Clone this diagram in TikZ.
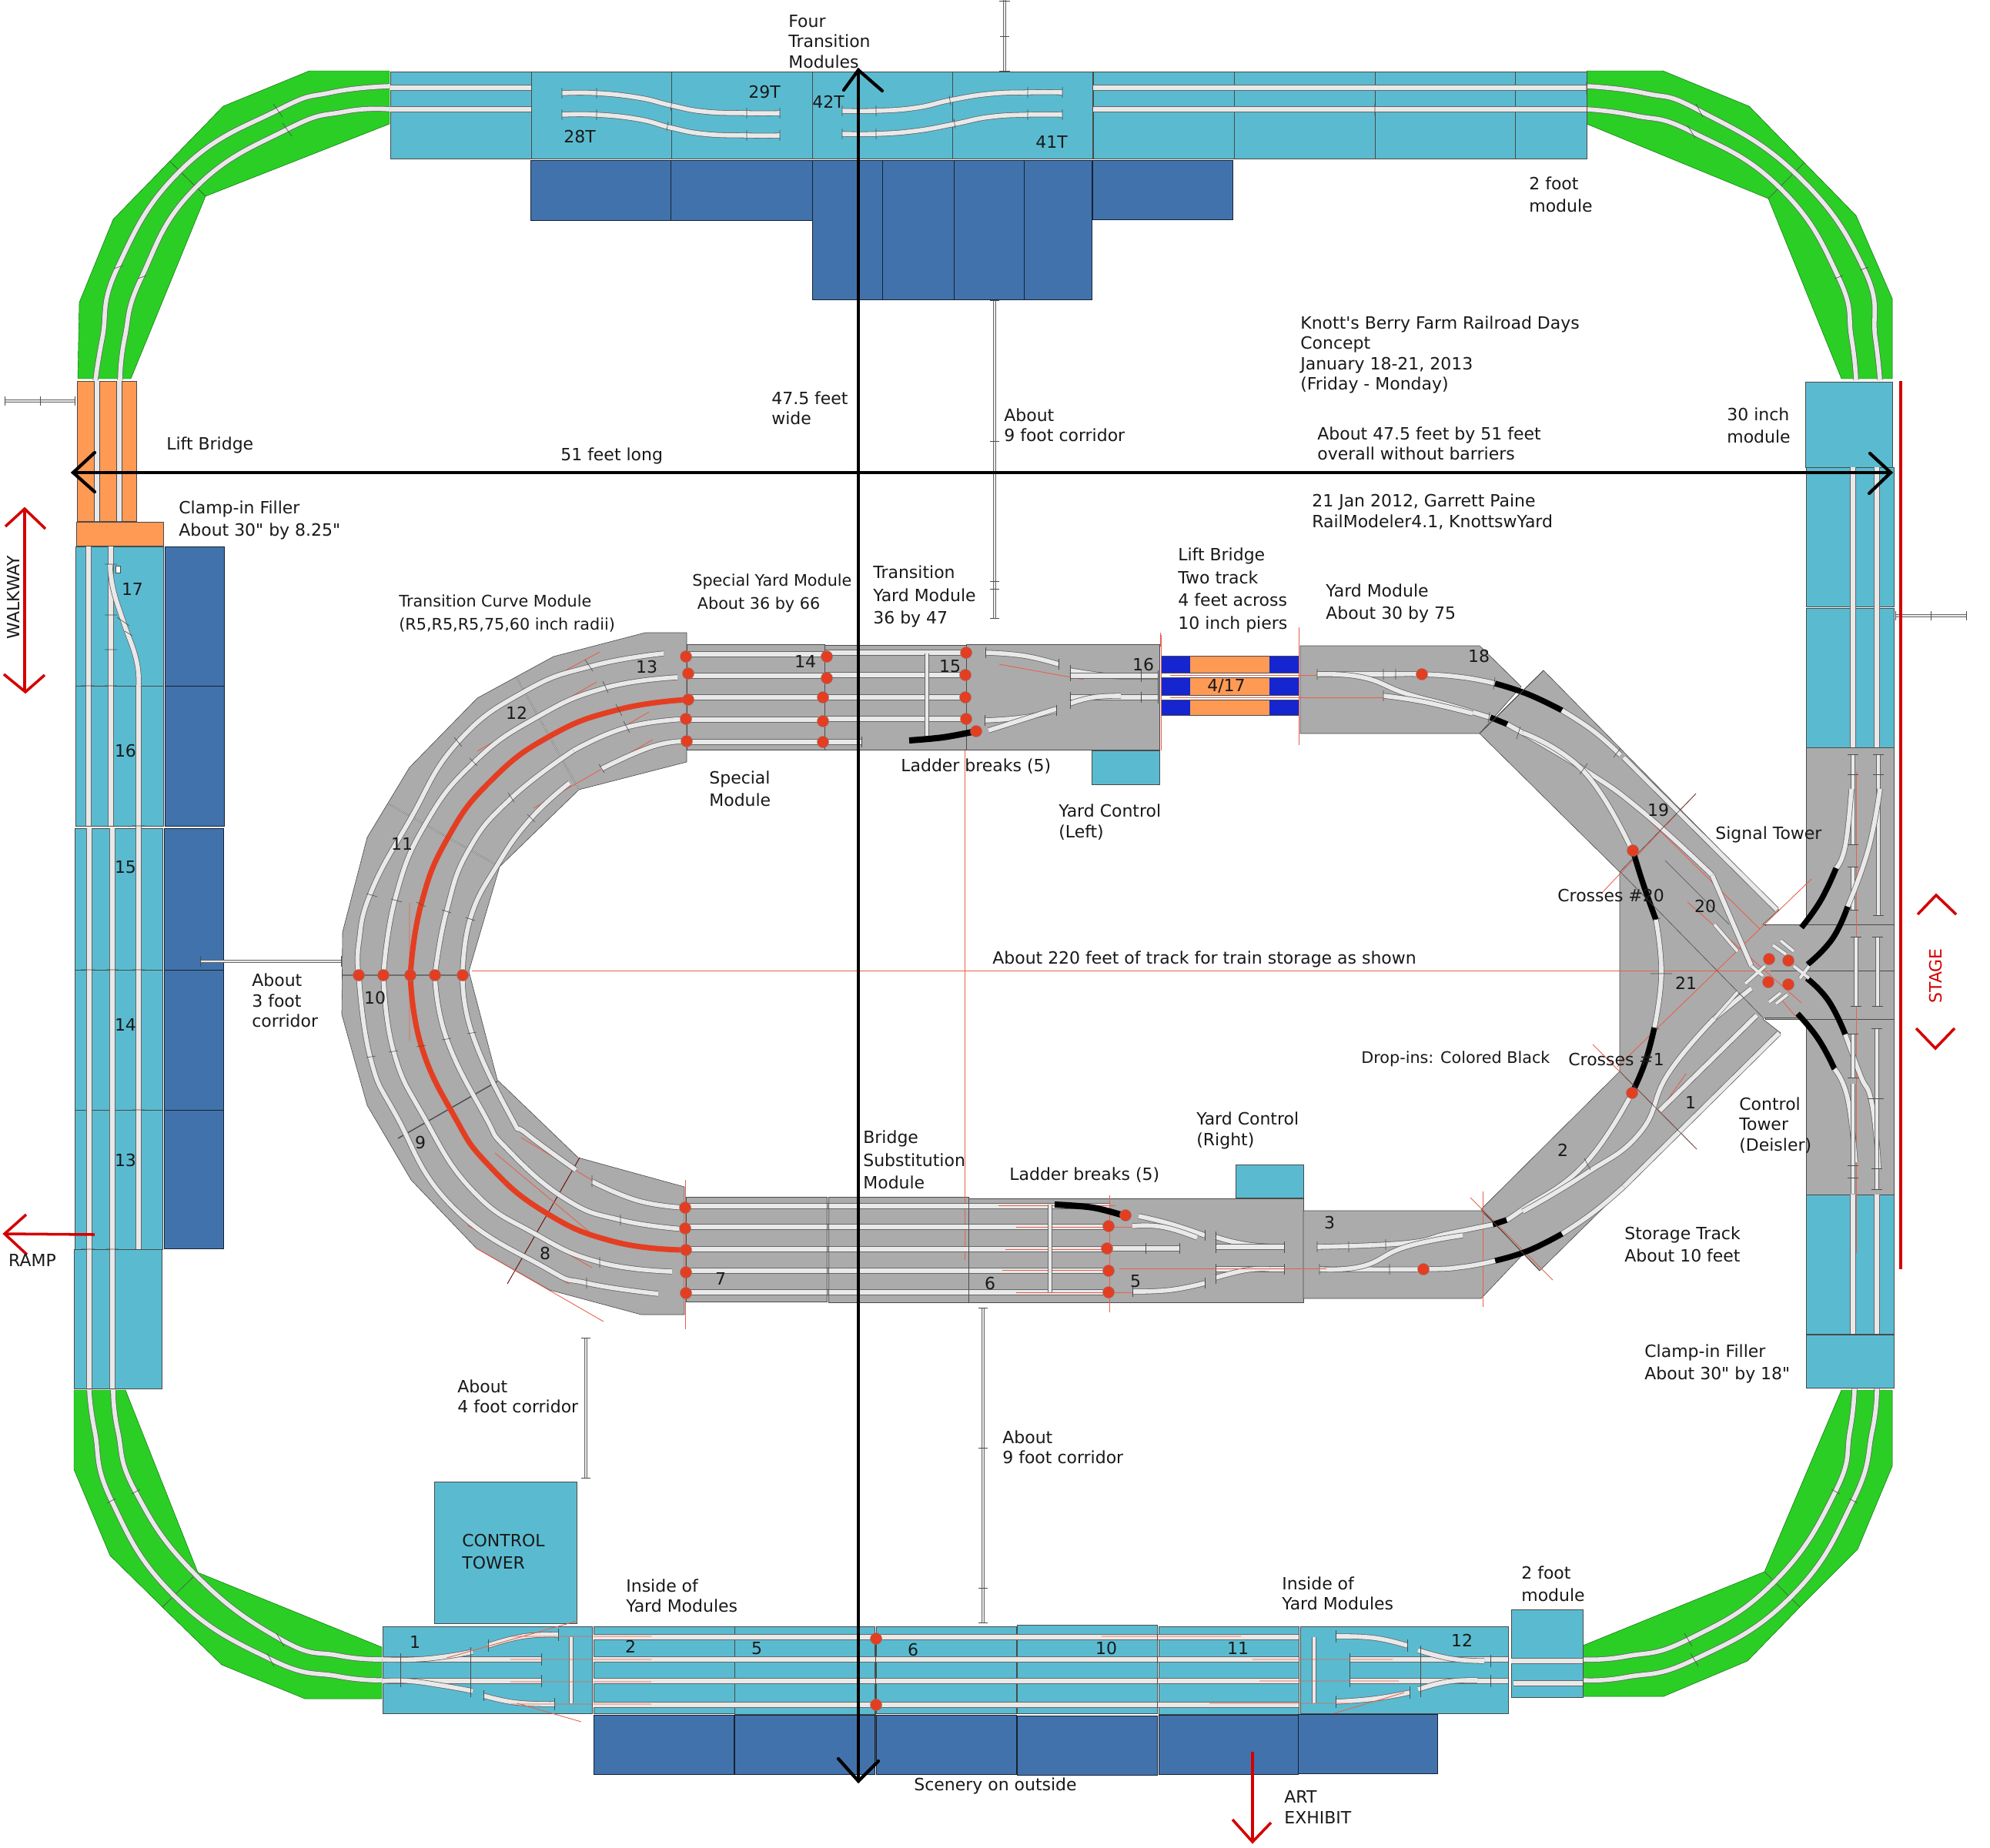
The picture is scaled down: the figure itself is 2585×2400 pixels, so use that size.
\documentclass[tikz,border=0pt]{standalone}
\usepackage{fontspec}
\setmainfont{DejaVu Sans}[Ligatures=TeXOff]
\definecolor{teal1}{HTML}{5ABBD0}
\definecolor{navy1}{HTML}{4272AB}
\definecolor{green1}{HTML}{2BCE25}
\definecolor{orange1}{HTML}{FF9A55}
\definecolor{gray1}{HTML}{ABABAB}
\definecolor{reddot}{HTML}{E43E22}
\definecolor{blue1}{HTML}{1525CF}
\definecolor{thinred}{HTML}{E8604C}
\definecolor{arrowred}{HTML}{D40000}
\definecolor{edge}{HTML}{4A4A4A}
\definecolor{rail}{HTML}{E9E9E9}
\tikzset{
 lbl/.style={font=\fontsize{12.5}{15}\selectfont,align=left,anchor=west,inner sep=0pt,text=black!90},
 lblw/.style={font=\fontsize{12.5}{16.8}\selectfont,align=left,anchor=west,inner sep=0pt,text=black!90},
 lbls/.style={font=\fontsize{11.8}{16.8}\selectfont,align=left,anchor=west,inner sep=0pt,text=black!90},
 num/.style={font=\fontsize{12.5}{15}\selectfont,inner sep=0pt,text=black!90},
 teal/.style={fill=teal1,draw=edge,line width=.35pt},
 navy/.style={fill=navy1,draw=black!70!navy1,line width=.35pt},
 grn/.style={fill=green1,draw=green!40!black,line width=.25pt},
 gry/.style={fill=gray1,draw=edge,line width=.35pt},
 orng/.style={fill=orange1,draw=edge,line width=.35pt},
 trk/.style={draw=black!60,double=rail,double distance=3.2pt,line width=.45pt},
 trkb/.style={draw=black!60,double=rail,double distance=2.2pt,line width=.35pt},
 blk/.style={draw=black,line width=4.2pt},
 redt/.style={draw=reddot,line width=4pt},
 thr/.style={draw=thinred,line width=.5pt},
 tck/.style={draw=black!70,line width=.35pt},
 dot/.style={circle,fill=reddot,draw=black!50,line width=.2pt,minimum size=8.6pt,inner sep=0pt},
 bigarrow/.style={draw=black,line width=2.4pt,line cap=round,line join=miter},
 redarrow/.style={draw=arrowred,line width=2pt,line join=miter},
 corr/.style={draw=black!60,double=rail,double distance=1.6pt,line width=.35pt}
}
\newcommand\T[3]{\node[lbl] (#1) at (#2) {#3};}
\newcommand\W[3]{\node[lblw] (#1) at (#2) {#3};}
\newcommand\Sm[3]{\node[lbls] (#1) at (#2) {#3};}
\newcommand\N[3]{\node[num] (#1) at (#2) {#3};}
\newcommand\Cv[1]{\draw[trk] plot[smooth,tension=.8] coordinates {#1};}
\newcommand\Cb[1]{\draw[blk] plot[smooth,tension=.8] coordinates {#1};}
\newcommand\Dt[2]{\node[dot] (#1) at (#2) {};}
\begin{document}
\begin{tikzpicture}[x=0.02cm,y=-0.02cm]
\useasboundingbox[fill=white] (0,0) rectangle (2585,2400);

% green corners
\draw[grn] (402,92)--(506,92)--(506,161)--(267,255)--(170,492)--(101,492)--(103,393)--(147,285)--(290,138)--cycle;
\draw[grn] (2160,92)--(2061,92)--(2061,161)--(2297,258)--(2392,492)--(2458,492)--(2458,388)--(2411,280)--(2272,138)--cycle;
\draw[grn] (96,1806)--(163,1806)--(257,2043)--(496,2140)--(496,2207)--(396,2207)--(288,2163)--(211,2088)--(143,2021)--(96,1909)--cycle;
\draw[grn] (2392,1806)--(2458,1806)--(2458,1905)--(2413,2013)--(2338,2088)--(2270,2158)--(2161,2204)--(2056,2204)--(2056,2138)--(2292,2042)--cycle;
\draw[tck] (221,210)--(267,255) (2297,258)--(2343,212) (211,2088)--(257,2043) (2292,2042)--(2338,2088);
\Cv{(506,112)(431,120)(361,143)(236,220)(153,347)(133,439)(124,494)}
\Cv{(506,142)(448,145)(373,168)(253,245)(184,360)(162,439)(156,494)}
\Cv{(2061,112)(2136,121)(2208,144)(2334,227)(2421,349)(2436,439)(2442,494)}
\Cv{(2061,142)(2123,150)(2197,171)(2313,245)(2388,360)(2405,439)(2411,494)}
\Cv{(116,1806)(123,1859)(145,1950)(226,2073)(352,2156)(440,2178)(496,2183)}
\Cv{(147,1806)(153,1859)(176,1938)(253,2045)(365,2130)(440,2151)(496,2156)}
\Cv{(2409,1804)(2403,1859)(2384,1938)(2305,2055)(2193,2130)(2112,2152)(2056,2156)}
\Cv{(2438,1804)(2432,1859)(2407,1950)(2326,2075)(2201,2156)(2112,2179)(2056,2183)}
\draw[tck] (355,135)--(367,152) (367,160)--(379,177) (148,349)--(160,345) (179,362)--(190,358)
 (2203,135)--(2212,152) (2192,163)--(2202,179) (2383,362)--(2394,358) (2416,351)--(2427,347)
 (139,1953)--(150,1947) (171,1941)--(182,1935) (347,2148)--(356,2165) (359,2122)--(369,2139)
 (2379,1935)--(2390,1941) (2402,1947)--(2413,1953) (2188,2122)--(2198,2139) (2196,2148)--(2206,2165);

% top row
\foreach \a/\b in {507/690,690/872,872/1055,1055/1237,1237/1419,1420/1603,1603/1786,1786/1968,1968/2061}
  \draw[teal] (\a,93) rectangle (\b,206);
\foreach \a/\b/\c in {689/871/286,871/1055/286,1055/1146/389,1146/1239/389,1239/1330/389,1330/1418/389,1419/1601/285}
  \draw[navy] (\a,208) rectangle (\b,\c);
\draw[trk] (507,114)--(690,114) (507,142)--(690,142);
\draw[trk] (1420,114)--(2061,114) (1420,142)--(2061,142);
\Cv{(730,121)(775,121)(830,127)(872,137)(915,145)(970,147)(1013,147)}
\Cv{(730,149)(775,149)(830,155)(872,166)(915,174)(970,176)(1013,176)}
\Cv{(1094,144)(1138,144)(1190,140)(1235,130)(1285,122)(1335,120)(1380,120)}
\Cv{(1094,174)(1138,174)(1190,170)(1240,161)(1285,152)(1335,149)(1380,149)}
\draw[tck] (775,114)--(775,128) (775,142)--(775,156) (970,140)--(970,154) (970,169)--(970,183) (1013,140)--(1013,154) (1013,169)--(1013,183) (730,114)--(730,128) (730,142)--(730,156)
 (1094,137)--(1094,151) (1138,137)--(1138,151) (1094,167)--(1094,181) (1138,167)--(1138,181) (1335,113)--(1335,127) (1380,113)--(1380,127) (1335,142)--(1335,156) (1380,142)--(1380,156)
 (2061,106)--(2061,122) (1786,134)--(1786,150) (873,130)--(871,144) (868,158)--(866,170) (1233,124)--(1235,137) (1239,154)--(1241,167);

% corridors
\draw[corr] (1305,0)--(1305,92);
\draw[tck] (1299,47)--(1311,47) (1298,92)--(1312,92) (1298,1)--(1312,1);
\draw[corr] (1292,390)--(1292,803);
\draw[tck] (1286,390)--(1298,390) (1286,573)--(1298,573) (1286,755)--(1298,755) (1286,765)--(1298,765) (1286,803)--(1298,803);
\draw[corr] (6,521)--(97,521);
\draw[tck] (6,515)--(6,527) (52,515)--(52,527) (97,515)--(97,527);
\draw[corr] (2462,800)--(2554,800);
\draw[tck] (2462,794)--(2462,806) (2508,794)--(2508,806) (2554,794)--(2554,806);
\draw[corr] (761,1738)--(761,1920);
\draw[tck] (755,1738)--(767,1738) (755,1920)--(767,1920);
\draw[corr] (1277,1699)--(1277,2108);
\draw[tck] (1271,1699)--(1283,1699) (1271,1881)--(1283,1881) (1271,2063)--(1283,2063) (1271,2108)--(1283,2108);

% lift bridge left
\draw[orng] (100,495) rectangle (177,677);
\fill[rail] (122,495) rectangle (129,677) (151,495) rectangle (158,677);
\draw[tck] (122,495)--(122,677) (129,495)--(129,677) (151,495)--(151,677) (158,495)--(158,677);
\draw[orng] (99,678) rectangle (212,709);

% left column
\foreach \a/\b in {710/891,891/1073} \draw[teal] (98,\a) rectangle (212,\b);
\foreach \a/\b in {1076/1260,1260/1442,1442/1623} \draw[teal] (97,\a) rectangle (211,\b);
\draw[teal] (96,1623) rectangle (210,1804);
\foreach \a/\b in {710/891,891/1073} \draw[navy] (214,\a) rectangle (291,\b);
\foreach \a/\b in {1076/1260,1260/1442,1442/1622} \draw[navy] (213,\a) rectangle (290,\b);
\draw[trk] (115,710)--(115,1073) (116,1076)--(116,1804);
\draw[trk] (144,710)--(144,1073) (146,1076)--(146,1804);
\draw[trk] (180,1623)--(180,891);
\Cv{(180,891)(177,857)(160,807)(147,765)(143,734)}
\draw[tck] (136,733)--(152,733) (136,799)--(152,799) (136,844)--(152,844) (152,802)--(168,813) (162,820)--(172,826)
 (105,891)--(122,891) (136,891)--(152,891) (172,1073)--(188,1073) (105,1260)--(123,1260) (138,1260)--(154,1260) (172,1260)--(188,1260) (172,1442)--(188,1442) (105,1623)--(123,1623) (138,1623)--(154,1623);
\draw[fill=white,draw=black!70,line width=.3pt] (150,735) rectangle (156,744);

% inner loop gray
\draw[gry] (838,822)--(892,822)--(892,990)--(752,1026)--(649,1126)--(609,1262)--(646,1403)--(751,1504)--(889,1542)--(889,1708)--(833,1708)--(714,1676)--(619,1622)--(534,1533)--(477,1436)--(444,1318)--(445,1211)--(477,1088)--(532,997)--(620,907)--(719,853)--cycle;
\draw[gry] (892,837) rectangle (1071,974);
\draw[gry] (1071,838) rectangle (1255,974);
\draw[gry] (1255,837) rectangle (1506,974);
\draw[teal] (1418,975) rectangle (1506,1019);
\fill[blue1] (1508,852) rectangle (1687,929);
\fill[orange1] (1546,852) rectangle (1649,929);
\draw[edge,line width=.35pt] (1508,852) rectangle (1687,929);
\fill[white] (1508,874) rectangle (1687,880) (1508,903) rectangle (1687,909);
\draw[tck] (1508,874)--(1687,874) (1508,880)--(1687,880) (1508,903)--(1687,903) (1508,909)--(1687,909);
\draw[gry] (1689,839)--(1922,839)--(1976,892)--(1922,953)--(1689,953)--cycle;
% lower yard
\draw[gry] (891,1555) rectangle (1074,1691);
\draw[gry] (1076,1555) rectangle (1258,1692);
\draw[gry] (1258,1557) rectangle (1441,1692);
\draw[gry] (1441,1557) rectangle (1693,1692);
\draw[teal] (1605,1513) rectangle (1693,1556);
\draw[gry] (1693,1573)--(1924,1573)--(1980,1628)--(1924,1687)--(1693,1687)--cycle;
% right gray mass
\draw[gry] (1922,953)--(2005,871)--(2311,1182)--(2290,1201)--(2293,1201)--(2293,1322)--(2290,1324)--(2313,1342)--(2000,1651)--(1924,1571)--(2104,1392)--(2104,1133)--cycle;
% right column
\draw[teal] (2345,496) rectangle (2458,607);
\draw[teal] (2346,607) rectangle (2460,788);
\draw[teal] (2346,790) rectangle (2460,971);
\draw[gry] (2346,971) rectangle (2460,1201);
\draw[gry] (2293,1201) rectangle (2460,1261);
\draw[gry] (2293,1261) rectangle (2460,1324);
\draw[gry] (2346,1324) rectangle (2460,1552);
\fill[gray1] (2280,1203) rectangle (2345,1322);
\draw[tck] (2293,1201)--(2345,1201) (2293,1322)--(2345,1322) (2290,1261)--(2345,1261);
\draw[teal] (2346,1552) rectangle (2460,1733);
\draw[teal] (2346,1734) rectangle (2460,1803);
\draw[trk] (2407,607)--(2407,971) (2438,607)--(2438,971);
\draw[trk] (2407,1552)--(2407,1733) (2438,1552)--(2438,1733);

% joints
\draw[tck,line width=.8pt] (671,880)--(752,1026) (504,1044)--(649,1126) (445,1267)--(609,1267) (646,1405)--(517,1479);
\draw[white,line width=.3pt] (671,880)--(752,1026) (504,1044)--(649,1126);
\draw[draw=black!60!red,line width=.5pt] (753,1504)--(659,1668);
\draw[tck] (892,837)--(892,975) (890,1555)--(890,1690);

% thin red construction lines
\draw[thr] (613,1261)--(2300,1261);
\draw[thr] (1253,975)--(1253,1637);
\draw[thr] (890,1533)--(890,1727) (1441,1553)--(1441,1705) (1508,825)--(1508,975) (1687,815)--(1687,968) (1926,1548)--(1926,1698) (1507,822)--(1507,840);
\draw[thr] (2203,1031)--(2080,1161) (2353,1142)--(2101,1386) (2069,1357)--(2204,1493) (1910,1556)--(2017,1663);
\draw[thr] (779,847)--(729,874) (775,886)--(620,976) (843,925)--(812,943) (848,961)--(693,1050) (532,1173)--(532,1353);
\draw[thr] (677,1478)--(775,1537) (643,1498)--(765,1600) (643,1575)--(769,1647) (607,1592)--(739,1668) (619,1622)--(784,1717);
\draw[thr] (2105,1029)--(2286,1207) (2192,1172)--(2340,1303);
\draw[thr] (2156,1443)--(2190,1395);
\draw[thr] (1520,877)--(1800,877) (1520,906)--(1800,906);
\draw[thr] (2411,1003)--(2411,1628);
\draw[thr] (1298,863)--(1408,883);

% yard tracks upper
\foreach \a in {850,878,906,935,964} \draw[trk] (892,\a)--(1071,\a);
\foreach \a in {848,877,906,934} \draw[trk] (1071,\a)--(1253,\a);
\draw[trk] (1071,964)--(1119,964);
\draw[tck] (1119,957)--(1119,971);
\Cv{(466,1267)(466,1226)(482,1159)(532,1066)(594,965)(682,898)(770,865)(862,849)}
\Cv{(498,1267)(514,1165)(553,1070)(616,990)(697,932)(785,894)(880,880)}
\Cv{(565,1267)(580,1184)(609,1104)(664,1037)(745,975)}
\Cv{(745,975)(814,945)(892,934)}
\Cv{(601,1267)(611,1193)(646,1124)(690,1063)(740,1017)}
\Cv{(781,999)(847,970)(892,963)}
\draw[redt] plot[smooth,tension=.8] coordinates {(533,1267)(547,1175)(582,1088)(638,1014)(715,956)(803,922)(892,909)};
% lower half
\Cv{(466,1267)(481,1374)(515,1450)(587,1567)(708,1647)(762,1667)(855,1681)}
\Cv{(498,1267)(511,1365)(550,1450)(614,1547)(695,1603)(779,1640)(873,1652)}
\Cv{(565,1267)(580,1349)(630,1450)(659,1493)(735,1558)(806,1585)(889,1597)}
\Cv{(601,1267)(613,1342)(663,1450)(684,1473)(748,1520)}
\Cv{(769,1535)(829,1560)(889,1569)}
\draw[redt] plot[smooth,tension=.8] coordinates {(533,1267)(547,1358)(590,1450)(634,1513)(708,1575)(797,1613)(889,1624)};
\draw[tck] (476,1161)--(490,1165) (508,1168)--(522,1172) (541,1172)--(553,1178) (574,1182)--(586,1186) (605,1192)--(617,1196)
 (476,1374)--(488,1372) (505,1367)--(517,1365) (541,1360)--(553,1358) (574,1351)--(586,1349) (607,1343)--(619,1341)
 (760,857)--(770,872) (783,885)--(790,900) (800,915)--(808,930) (810,937)--(818,952) (778,993)--(785,1004)
 (590,958)--(600,970) (610,985)--(620,995) (660,1030)--(668,1042) (685,1058)--(695,1068)
 (762,1660)--(762,1674) (779,1633)--(779,1647) (806,1578)--(806,1592) (769,1527)--(769,1542);
\foreach \a in {1567,1594,1623,1651,1679} \draw[trk] (892,\a)--(1441,\a);
\draw[tck] (1074,1555)--(1074,1691) (1258,1557)--(1258,1692);
\draw[tck] (1076,1555)--(1076,1692) (1071,838)--(1071,974) (1255,838)--(1255,974);
\draw[thr] (1297,1566)--(1449,1566) (1320,1594)--(1471,1594) (1306,1623)--(1458,1623) (1302,1650)--(1436,1650) (1320,1679)--(1471,1679);

% ladders
\draw[trkb] (1204,849)--(1204,959);
\draw[trkb] (1364,1565)--(1364,1679);
\draw[blk,line width=4.6pt] plot[smooth,tension=.6] coordinates {(1181,962)(1225,958)(1268,950)};
\draw[blk,line width=4.6pt] plot[smooth,tension=.6] coordinates {(1370,1565)(1420,1569)(1462,1580)};

% turnouts upper yard
\Cv{(1280,848)(1330,852)(1375,863)}
\Cv{(1390,871)(1440,878)(1482,879)(1504,879)}
\draw[trk] (1390,878)--(1504,878) (1390,906)--(1504,906);
\Cv{(1390,914)(1420,906)(1456,904)}
\Cv{(1279,936)(1330,932)(1372,923)}
\draw[trk] (1284,949)--(1372,921);
\draw[tck] (1280,841)--(1280,855) (1375,856)--(1375,870) (1390,864)--(1390,885) (1482,871)--(1482,886) (1504,871)--(1504,914) (1390,899)--(1390,921) (1482,899)--(1482,913) (1279,929)--(1279,943) (1372,916)--(1372,930);
% turnouts lower yard
\Cv{(1479,1580)(1520,1590)(1565,1605)}
\Cv{(1579,1607)(1620,1617)(1668,1620)}
\draw[trk] (1579,1620)--(1668,1620) (1579,1649)--(1668,1649);
\Cv{(1471,1593)(1510,1594)(1555,1608)}
\draw[trk] (1441,1622)--(1532,1622);
\Cv{(1579,1660)(1620,1650)(1650,1649)}
\Cv{(1471,1678)(1520,1676)(1565,1667)}
\draw[tck] (1565,1598)--(1565,1612) (1579,1600)--(1579,1628) (1668,1613)--(1668,1628) (1668,1642)--(1668,1656) (1579,1642)--(1579,1668) (1532,1615)--(1532,1629) (1488,1615)--(1488,1629) (1471,1671)--(1471,1685) (1565,1660)--(1565,1674);
% module 18 & around
\Cv{(1711,876)(1797,876)(1847,876)(1900,880)(1942,888)}
\Cb{(1942,888)(1985,902)(2029,923)}
\Cv{(2029,923)(2070,950)(2105,981)}
\draw[trk] (2109,984)--(2308,1182);
\Cv{(1711,876)(1770,880)(1826,901)(1885,917)(1935,932)}
\draw[blk] (1936,932)--(1958,941);
\Cv{(1958,941)(2058,1000)(2134,1055)(2224,1137)}
\draw[trk] (2224,1137)--(2275,1255);
\Cv{(1797,904)(1850,912)(1913,927)}
\Cv{(1978,952)(2058,1003)(2120,1105)}
\Cb{(2121,1105)(2135,1150)(2151,1195)}
\Cv{(2151,1195)(2158,1265)(2149,1335)}
\Cb{(2149,1335)(2137,1380)(2120,1420)}
\Cv{(2120,1420)(2058,1513)(1978,1571)(1957,1585)}
\draw[blk] (1939,1591)--(1957,1585);
\Cv{(1939,1591)(1880,1603)(1826,1615)(1711,1620)}
\draw[trk] (2275,1284)--(2228,1322);
\Cv{(2228,1322)(2167,1395)(2130,1472)(2058,1526)(1978,1574)}
\draw[trk] (2311,1342)--(2109,1542);
\Cv{(2109,1542)(2070,1575)(2029,1603)}
\Cb{(2029,1603)(1985,1625)(1942,1638)}
\Cv{(1942,1638)(1900,1646)(1848,1649)(1714,1649)}
\draw[trk] (2282,1319)--(2156,1443);
\Cv{(1714,1649)(1770,1645)(1826,1620)(1900,1605)}
\draw[tck] (1711,869)--(1711,883) (1797,869)--(1797,883) (1813,869)--(1813,883) (1797,897)--(1797,911) (1942,880)--(1940,896) (2105,972)--(2096,984) (2062,992)--(2052,1006) (1935,925)--(1933,939) (1975,944)--(1970,960)
 (1714,1642)--(1714,1656) (1805,1642)--(1805,1656) (1711,1613)--(1711,1627) (1752,1613)--(1752,1627) (1800,1610)--(1800,1624)
 (2144,1265)--(2172,1265) (2147,1195)--(2157,1193) (2145,1335)--(2155,1337) (2058,1505)--(2066,1520);
\draw[thr] (1454,1648)--(1723,1648);

% right gray module tracks
\draw[trkb] (2407,980)--(2407,1006) (2407,1006)--(2407,1097) (2407,1126)--(2407,1182);
\draw[trkb] (2440,980)--(2440,1006) (2440,1006)--(2440,1189);
\Cv{(2405,1025)(2397,1099)(2385,1128)}
\Cb{(2385,1128)(2365,1170)(2340,1205)}
\Cv{(2442,1025)(2427,1103)(2400,1178)}
\Cb{(2400,1178)(2380,1220)(2348,1253)}
\draw[trkb] (2411,1217)--(2411,1307) (2439,1217)--(2439,1307);
\Cb{(2347,1271)(2375,1300)(2397,1344)}
\Cv{(2397,1344)(2417,1398)(2430,1427)(2438,1485)(2440,1518)}
\Cb{(2335,1317)(2362,1350)(2383,1389)}
\Cv{(2383,1389)(2400,1427)(2410,1510)}
\draw[trkb] (2407,1343)--(2407,1400) (2407,1408)--(2407,1514) (2407,1514)--(2407,1551) (2438,1336)--(2438,1518) (2438,1518)--(2438,1545);
\draw[tck] (2400,980)--(2414,980) (2400,1006)--(2414,1006) (2400,1097)--(2414,1097) (2400,1126)--(2414,1126) (2400,1182)--(2414,1182) (2433,980)--(2447,980) (2433,1006)--(2447,1006) (2433,1189)--(2447,1189) (2404,1217)--(2418,1217) (2404,1307)--(2418,1307) (2432,1217)--(2446,1217) (2432,1307)--(2446,1307) (2400,1343)--(2414,1343) (2400,1400)--(2414,1400) (2400,1514)--(2414,1514) (2400,1530)--(2414,1530) (2431,1336)--(2445,1336) (2431,1518)--(2445,1518) (2431,1545)--(2445,1545) (2426,1427)--(2447,1427);
% central crossing
\draw[trkb] (2303,1228)--(2320,1240) (2313,1222)--(2330,1236) (2330,1255)--(2350,1271) (2338,1271)--(2350,1255) (2275,1255)--(2290,1268) (2267,1278)--(2293,1255) (2298,1302)--(2313,1290) (2307,1304)--(2322,1292) (2257,1236)--(2227,1201) (2258,1288)--(2227,1323);
\draw[thr] (2315,1300)--(2332,1320);
\draw[tck] (2105,1133)--(2290,1322) (2203,1031)--(2104,1133) (2104,1392)--(2204,1493) (2163,1118)--(2246,1201);
\draw[tck,line width=.5pt] (2005,871)--(1922,953) (1924,1571)--(2000,1651);
\Dt{d1}{2298,1246}\Dt{d2}{2323,1248}\Dt{d3}{2297,1276}\Dt{d4}{2323,1279}

% dots
\Dt{a1}{891,853}\Dt{a2}{894,875}\Dt{a3}{894,909}\Dt{a4}{891,934}\Dt{a5}{892,963}
\Dt{b1}{1074,853}\Dt{b2}{1074,881}\Dt{b3}{1069,906}\Dt{b4}{1069,937}\Dt{b5}{1069,964}
\Dt{c1}{1255,848}\Dt{c2}{1254,877}\Dt{c3}{1254,906}\Dt{c4}{1255,934}\Dt{c5}{1268,950}
\Dt{e1}{466,1267}\Dt{e2}{498,1267}\Dt{e3}{533,1267}\Dt{e4}{565,1267}\Dt{e5}{601,1267}
\Dt{f1}{890,1569}\Dt{f2}{890,1596}\Dt{f3}{891,1624}\Dt{f4}{891,1653}\Dt{f5}{891,1680}
\Dt{g1}{1462,1579}\Dt{g2}{1440,1593}\Dt{g3}{1438,1622}\Dt{g4}{1440,1651}\Dt{g5}{1440,1679}
\Dt{h1}{1847,876}\Dt{h2}{2121,1105}\Dt{h3}{2120,1420}\Dt{h4}{1849,1649}

% bottom row
\draw[teal] (497,2113) rectangle (769,2226);
\draw[teal] (771,2113) rectangle (954,2226);
\draw[teal] (954,2113) rectangle (1136,2227);
\draw[teal] (1138,2113) rectangle (1320,2226);
\draw[teal] (1321,2111) rectangle (1503,2226);
\draw[teal] (1505,2113) rectangle (1687,2227);
\draw[teal] (1689,2113) rectangle (1959,2226);
\draw[teal] (1963,2091) rectangle (2056,2205);
\draw[teal] (564,1925) rectangle (749,2109);
\foreach \a/\b/\c/\d in {771/953/2228/2305,954/1136/2228/2305,1138/1320/2228/2305,1321/1503/2229/2306,1505/1686/2228/2305,1686/1867/2227/2304}
  \draw[navy] (\a,\c) rectangle (\b,\d);
\foreach \a in {2127,2156,2184,2215} \draw[trk] (771,\a)--(1687,\a);
\draw[trkb] (742,2127)--(742,2213);
\draw[trkb] (1707,2127)--(1707,2213);
\draw[trk] (497,2156)--(703,2156) (497,2184)--(703,2184);
\Cv{(497,2156)(539,2156)(580,2152)(614,2146)}
\Cv{(634,2138)(680,2126)(725,2124)}
\Cv{(497,2184)(531,2184)(575,2190)(614,2197)}
\Cv{(628,2203)(670,2212)(720,2214)}
\draw[trk] (1753,2156)--(1959,2156) (1753,2184)--(1959,2184);
\Cv{(1735,2126)(1785,2128)(1828,2138)}
\Cv{(1842,2144)(1885,2155)(1928,2158)}
\Cv{(1735,2211)(1785,2207)(1831,2199)}
\Cv{(1842,2195)(1880,2185)(1919,2183)}
\draw[trk] (1963,2158)--(2056,2158) (1966,2187)--(2056,2187);
\draw[tck] (520,2148)--(520,2192) (611,2140)--(611,2205) (634,2130)--(634,2146) (725,2116)--(725,2132) (628,2196)--(628,2210) (720,2206)--(720,2222) (703,2148)--(703,2164) (703,2176)--(703,2192)
 (1753,2148)--(1753,2192) (1845,2138)--(1845,2205) (1735,2118)--(1735,2134) (1828,2130)--(1828,2146) (1735,2203)--(1735,2219) (1831,2191)--(1831,2207) (1936,2150)--(1936,2166) (1936,2176)--(1936,2192)
 (1503,2113)--(1503,2226);
\draw[thr] (663,2126)--(846,2126) (663,2156)--(846,2156) (663,2185)--(846,2185) (663,2214)--(846,2214) (580,2154)--(750,2106) (672,2213)--(755,2237);
\draw[thr] (1431,2126)--(1612,2126) (1627,2156)--(1809,2156) (1636,2184)--(1817,2184) (1571,2213)--(1753,2213) (1733,2226)--(1824,2199);
\draw[tck] (1137,2129)--(1137,2288);
\Dt{k1}{1138,2129}\Dt{k2}{1138,2215}

% red markers
\draw[arrowred,line width=2.4pt] (2469,495)--(2469,1649);
\draw[redarrow] (7,684)--(32,661)--(59,687);
\draw[redarrow] (5,876)--(33,899)--(58,877);
\draw[redarrow] (32,661)--(32,899);
\draw[redarrow] (123,1604)--(6,1603);
\draw[redarrow] (34,1578)--(6,1603)--(35,1630);
\draw[redarrow] (1627,2276)--(1627,2393);
\draw[redarrow] (1601,2364)--(1627,2393)--(1651,2368);
\draw[redarrow] (2491,1188)--(2515,1163)--(2541,1188);
\draw[redarrow] (2489,1336)--(2514,1362)--(2539,1336);

% big arrows
\coordinate (va) at (1115,91);\coordinate (vb) at (1115,2314);
\coordinate (ha) at (95,614);\coordinate (hb) at (2456,614);
\draw[bigarrow] (va)--(vb) (ha)--(hb);
\draw[bigarrow] (1096,117)--(va)--(1146,118);
\draw[bigarrow] (1089,2285)--(vb)--(1141,2288);
\draw[bigarrow] (123,588)--(ha)--(123,639);
\draw[bigarrow] (2429,589)--(hb)--(2428,641);

% labels
\T{t1}{1024,54}{Four\\Transition\\Modules}
\N{n29}{993,120}{29T}\N{n28}{753,178}{28T}\N{n42}{1076,132}{42T}\N{n41}{1366,184}{41T}
\W{t2}{1986,253}{2 foot\\module}
\T{t3}{1689,461}{Knott's Berry Farm Railroad Days\\Concept\\January 18-21, 2013\\(Friday - Monday)}
\T{t4}{1002,530}{47.5 feet\\wide}
\T{t5}{1304,552}{About\\9 foot corridor}
\W{t6}{2243,553}{30 inch\\module}
\T{t7}{1711,576}{About 47.5 feet by 51 feet\\overall without barriers}
\T{t8}{216,578}{Lift Bridge}
\T{t9}{728,592}{51 feet long}
\T{t10}{1704,665}{21 Jan 2012, Garrett Paine\\RailModeler4.1, KnottswYard}
\W{t11}{232,676}{Clamp-in Filler\\About 30" by 8.25"}
\W{t12}{1530,767}{Lift Bridge\\Two track\\4 feet across\\10 inch piers}
\W{t13}{1722,784}{Yard Module\\About 30 by 75}
\W{t14}{1134,775}{Transition\\Yard Module\\36 by 47}
\Sm{t15}{899,771}{Special Yard Module\\\ About 36 by 66}
\Sm{t16}{518,797}{Transition Curve Module\\(R5,R5,R5,75,60 inch radii)}
\N{n13a}{840,866}{13}\N{n14a}{1046,859}{14}\N{n15a}{1234,866}{15}\N{n16a}{1485,863}{16}
\N{n12a}{671,926}{12}\N{n11a}{522,1096}{11}\N{n10a}{487,1296}{10}
\N{n417}{1593,892}{4/17}
\W{t17}{921,1025}{Special\\Module}
\T{t18}{1170,996}{Ladder breaks (5)}
\T{t19}{1375,1068}{Yard Control\\(Left)}
\T{t20}{1289,1246}{About 220 feet of track for train storage as shown}
\N{n18}{1921,852}{18}\N{n19}{2154,1052}{19}\N{n20}{2215,1177}{20}\N{n21}{2190,1277}{21}
\N{n1b}{2196,1432}{1}\N{n2b}{2030,1494}{2}\N{n3b}{1727,1588}{3}\N{n5b}{1475,1665}{5}
\T{t21}{2228,1084}{Signal Tower}
\T{t22}{2023,1163}{Crosses \#20}
\Sm{t23}{1768,1376}{Drop-ins: Colored Black}
\T{t24}{2037,1376}{Crosses \#1}
\T{t25}{2259,1462}{Control\\Tower\\(Deisler)}
\W{t26}{2110,1617}{Storage Track\\About 10 feet}
\W{t27}{2136,1772}{Clamp-in Filler\\About 30" by 18"}
\T{t28}{1554,1469}{Yard Control\\(Right)}
\T{t29}{1311,1527}{Ladder breaks (5)}
\W{t30}{1121,1507}{Bridge\\Substitution\\Module}
\N{n7}{936,1661}{7}\N{n6}{1286,1667}{6}\N{n8}{708,1628}{8}\N{n9}{546,1484}{9}
\T{t31}{594,1814}{About\\4 foot corridor}
\T{t32}{1302,1880}{About\\9 foot corridor}
\W{t33}{600,2016}{CONTROL\\TOWER}
\T{t34}{813,2073}{Inside of\\Yard Modules}
\T{t35}{1665,2070}{Inside of\\Yard Modules}
\W{t36}{1976,2058}{2 foot\\module}
\N{n1c}{539,2133}{1}\N{n2c}{819,2139}{2}\N{n5c}{983,2142}{5}\N{n6c}{1186,2143}{6}\N{n10c}{1437,2141}{10}\N{n11c}{1608,2141}{11}\N{n12c}{1899,2131}{12}
\T{t37}{1187,2320}{Scenery on outside}
\T{t38}{1668,2348}{ART\\EXHIBIT}
\N{n17l}{172,765}{17}\N{n16l}{163,975}{16}\N{n15l}{163,1127}{15}\N{n14l}{163,1331}{14}\N{n13l}{163,1507}{13}
\T{t39}{327,1300}{About\\3 foot\\corridor}
\node[lbl,anchor=center,rotate=90] (t40) at (17,776) {WALKWAY};
\node[lbl,anchor=center] (t41) at (42,1637) {RAMP};
\node[lbl,anchor=center,rotate=90,text=arrowred] (t42) at (2514,1268) {STAGE};
\draw[corr] (260,1249)--(443,1249);
\draw[tck] (260,1242)--(260,1256) (443,1242)--(443,1256);
\end{tikzpicture}
\end{document}
